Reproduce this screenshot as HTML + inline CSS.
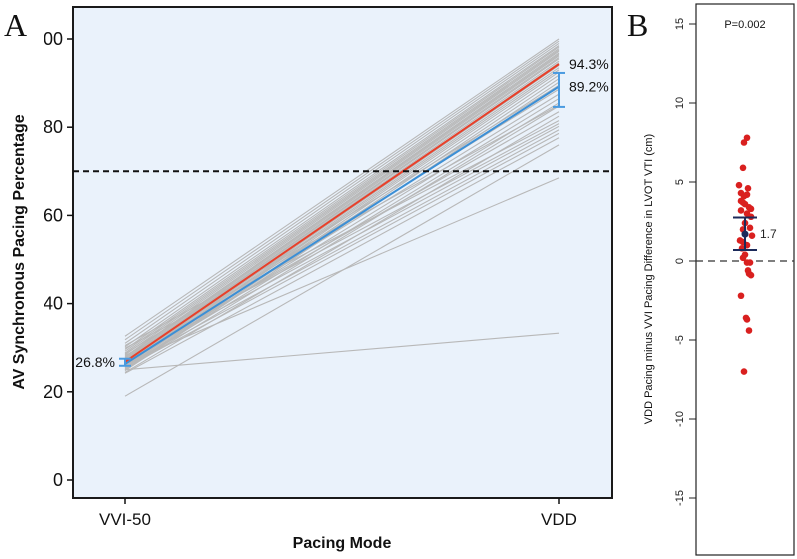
<!DOCTYPE html>
<html><head><meta charset="utf-8"><style>
body{margin:0;background:#fff;}
svg{display:block;font-family:"Liberation Sans",sans-serif;}
</style></head><body>
<svg id="chart" width="797" height="559" viewBox="0 0 797 559">
<defs><clipPath id="clipA"><rect x="44" y="0" width="600" height="559"/></clipPath></defs>
<g id="panelA"></g>
<g id="panelB"></g>
</svg>
<script>
// Panel A data
const modeCats = ["VVI-50", "VDD"];
const startVals = [32.6,31.8,31.0,30.2,29.6,29.2,28.8,28.4,28.0,27.8,27.5,27.2,27.0,26.8,26.5,26.3,26.0,25.8,25.5,25.2,25.0,24.8,28.6,27.6,26.9,26.2,25.6,25.0,24.4,19.0,25.0,29.9,28.2,27.1,26.0,25.4,24.2,30.5,27.3,26.6];
const endVals   = [100,99.5,99,98.5,98.2,97.8,97.5,97.2,96.8,96.5,96.2,95.8,95.5,95.0,94.6,94.0,93.5,93.0,92.5,91.8,91.0,90.2,89.5,88.6,87.5,86.5,85.5,84.8,82.5,76.0,33.3,81.5,80.8,80.2,79.4,78.6,77.6,85.0,83.5,68.5];
const meanVals = [26.8, 94.3];
const blueVals = [26.3, 89.2];
const blueErrLo = [25.9, 84.6];
const blueErrHi = [27.5, 92.3];
const yTicksA = [0,20,40,60,80,100];
const yTickLabelsA = ["0","20","40","60","80","100"];
const thresholdA = 70;
// Panel B data
const diffVals = [7.8,7.5,5.9,4.8,4.6,4.3,4.2,4.1,3.8,3.7,3.6,3.4,3.3,3.2,3.0,2.8,2.4,2.1,2.0,1.6,1.3,1.2,1.0,0.8,0.4,0.2,-0.1,-0.1,-0.6,-0.8,-0.9,-2.2,-3.6,-3.7,-4.4,-7.0];
const jitter = [2,-1,-2,-6,3,-4,2,-1,-4,-2,0,4,6,-4,2,6,0,5,-2,7,-5,-2,2,-3,0,-2,2,5,3,4,6,-4,1,2,4,-1];
const diffMean = [1.7];
const diffCI = [0.7, 2.75];
const yTicksB = [-15,-10,-5,0,5,10,15];
const yTickLabelsB = ["-15","-10","-5","0","5","10","15"];
const pLabel = ["P=0.002"];

const NS="http://www.w3.org/2000/svg";
function mk(parent,tag,attrs,text){const e=document.createElementNS(NS,tag);for(const k in attrs)e.setAttribute(k,attrs[k]);if(text!==undefined)e.textContent=text;parent.appendChild(e);return e;}

// ---- Panel A ----
const A=document.getElementById('panelA');
const ax0=73, ax1=612, ay0=7, ay1=498;
const xA=i=>[125,559][i];
const yA=v=>480-v*4.41;
let r=mk(A,'rect',{x:ax0,y:ay0,width:ax1-ax0,height:ay1-ay0,fill:'#eaf2fb',stroke:'#1a1a1a','stroke-width':2});

for(let i=0;i<startVals.length;i++){
  const l=mk(A,'line',{x1:xA(0),y1:yA(startVals[i]),x2:xA(1),y2:yA(endVals[i]),stroke:'#b8b8b8','stroke-width':1.1});
  
  
}
let bl=mk(A,'line',{x1:xA(0),y1:yA(blueVals[0]),x2:xA(1),y2:yA(blueVals[1]),stroke:'#3b8fd6','stroke-width':2});

let rl=mk(A,'line',{x1:xA(0),y1:yA(meanVals[0]),x2:xA(1),y2:yA(meanVals[1]),stroke:'#e8402a','stroke-width':2});

for(let i=0;i<2;i++){
  const g=mk(A,'g',{stroke:'#4a9be0','stroke-width':2});
  
  mk(g,'line',{x1:xA(i),y1:yA(blueErrLo[i]),x2:xA(i),y2:yA(blueErrHi[i])});
  mk(g,'line',{x1:xA(i)-6,y1:yA(blueErrLo[i]),x2:xA(i)+6,y2:yA(blueErrLo[i])});
  mk(g,'line',{x1:xA(i)-6,y1:yA(blueErrHi[i]),x2:xA(i)+6,y2:yA(blueErrHi[i])});
}
let dl=mk(A,'line',{x1:ax0,y1:yA(thresholdA),x2:ax1,y2:yA(thresholdA),stroke:'#111','stroke-width':2,'stroke-dasharray':'6,4'});

let t;
t=mk(A,'text',{x:xA(1)+10,y:yA(meanVals[1])+5,'font-size':14,fill:'#111'},meanVals[1]+'%');

t=mk(A,'text',{x:xA(1)+10,y:yA(blueVals[1])+5,'font-size':14,fill:'#111'},blueVals[1]+'%');

t=mk(A,'text',{x:xA(0)-10,y:yA(meanVals[0])+5,'font-size':14,fill:'#111','text-anchor':'end'},meanVals[0]+'%');

const gy=mk(A,'g',{'clip-path':'url(#clipA)'});

yTicksA.forEach((v,i)=>{
  mk(gy,'line',{x1:ax0-6,y1:yA(v),x2:ax0,y2:yA(v),stroke:'#111','stroke-width':1.5});
  const tl=mk(gy,'text',{x:63,y:yA(v)+6,'font-size':18,'text-anchor':'end',fill:'#111'},yTickLabelsA[i]);
  
  
});
modeCats.forEach((c,i)=>{
  mk(A,'line',{x1:xA(i),y1:ay1,x2:xA(i),y2:ay1+6,stroke:'#111','stroke-width':1.5});
  const tl=mk(A,'text',{x:xA(i),y:525,'font-size':17,'text-anchor':'middle',fill:'#111'},c);
  
  
});
t=mk(A,'text',{x:342,y:548,'font-size':16,'font-weight':'bold','text-anchor':'middle',fill:'#111'},'Pacing Mode');

t=mk(A,'text',{x:0,y:0,'font-size':16,'font-weight':'bold','text-anchor':'middle',fill:'#111',transform:'translate(24,252) rotate(-90)'},'AV Synchronous Pacing Percentage');

t=mk(A,'text',{x:4,y:36,'font-size':32,'font-family':'Liberation Serif, serif',fill:'#111'},'A');


// ---- Panel B ----
const B=document.getElementById('panelB');
const bx0=696, bx1=794, by0=4, by1=555, cx=745;
const yB=v=>261-v*15.8;
r=mk(B,'rect',{x:bx0,y:by0,width:bx1-bx0,height:by1-by0,fill:'#fff',stroke:'#222','stroke-width':1.2});

yTicksB.forEach((v,i)=>{
  mk(B,'line',{x1:bx0-7,y1:yB(v),x2:bx0,y2:yB(v),stroke:'#222','stroke-width':1});
  const tl=mk(B,'text',{x:0,y:0,'font-size':11,'text-anchor':'middle',fill:'#222',transform:`translate(${bx0-13},${yB(v)}) rotate(-90)`},yTickLabelsB[i]);
  
  
});
dl=mk(B,'line',{x1:bx0,y1:yB(0),x2:bx1,y2:yB(0),stroke:'#333','stroke-width':1.3,'stroke-dasharray':'7,5'});

diffVals.forEach((v,i)=>{
  const c=mk(B,'circle',{cx:cx+jitter[i],cy:yB(v),r:3.3,fill:'#d9201f'});
  
  
});
const eg=mk(B,'g',{stroke:'#1c2a5a','stroke-width':2});

mk(eg,'line',{x1:cx,y1:yB(diffCI[0]),x2:cx,y2:yB(diffCI[1])});
mk(eg,'line',{x1:cx-12,y1:yB(diffCI[0]),x2:cx+12,y2:yB(diffCI[0])});
mk(eg,'line',{x1:cx-12,y1:yB(diffCI[1]),x2:cx+12,y2:yB(diffCI[1])});
let mc=mk(B,'circle',{cx:cx,cy:yB(diffMean[0]),r:3.5,fill:'#1c2a5a'});

t=mk(B,'text',{x:cx+15,y:yB(diffMean[0])+4,'font-size':12,fill:'#222'},String(diffMean[0]));

t=mk(B,'text',{x:cx,y:28,'font-size':11,'text-anchor':'middle',fill:'#111'},pLabel[0]);

t=mk(B,'text',{x:0,y:0,'font-size':11,'text-anchor':'middle',fill:'#111',transform:'translate(652,279) rotate(-90)'},'VDD Pacing minus VVI Pacing Difference in LVOT VTI (cm)');

t=mk(B,'text',{x:627,y:36,'font-size':32,'font-family':'Liberation Serif, serif',fill:'#111'},'B');

</script>
</body></html>
